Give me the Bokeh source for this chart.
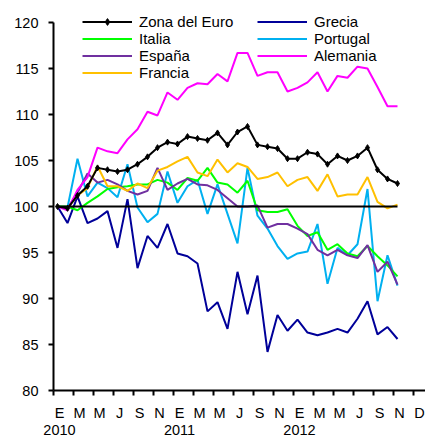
from bokeh.plotting import figure
from bokeh.models import Range1d, FixedTicker, LinearAxis, Legend, LegendItem
from bokeh.embed import file_html
from bokeh.resources import INLINE

# ---- data (monthly index, Jan 2010 = 100) ----
months = list(range(35))  # Jan 2010 .. Nov 2012
zona = [100.0, 99.8, 101.2, 102.2, 104.2, 104.0, 103.8, 104.0, 104.6, 105.4, 106.4, 107.0,
        106.8, 107.6, 107.4, 107.2, 108.0, 106.7, 108.1, 108.7, 106.7, 106.5, 106.3, 105.2,
        105.2, 105.9, 105.7, 104.6, 105.5, 105.0, 105.5, 106.4, 104.0, 103.0, 102.5]
grecia = [100.0, 98.2, 101.1, 98.2, 98.7, 99.5, 95.5, 100.8, 93.3, 96.8, 95.5, 98.1,
          94.9, 94.6, 93.8, 88.6, 89.6, 86.7, 92.9, 88.3, 92.5, 84.2, 88.2, 86.5,
          87.7, 86.3, 86.0, 86.3, 86.7, 86.3, 87.8, 89.7, 86.1, 86.9, 85.6]
italia = [100.0, 100.0, 99.6, 100.4, 101.1, 101.9, 102.1, 102.2, 102.4, 102.4, 102.9, 102.6,
          101.8, 103.1, 102.8, 104.2, 102.6, 102.4, 101.5, 102.8, 99.6, 99.4, 99.4, 99.7,
          97.9, 96.8, 97.2, 95.3, 95.9, 94.9, 94.6, 95.7, 94.6, 93.6, 92.4]
portugal = [100.0, 99.9, 105.2, 101.1, 102.6, 102.0, 101.0, 104.6, 99.9, 98.3, 99.2, 103.8,
            100.4, 102.2, 102.9, 99.2, 102.4, 99.2, 96.0, 104.2, 99.0, 97.6, 95.7, 94.3,
            94.9, 95.1, 98.1, 91.6, 95.5, 94.7, 95.9, 101.9, 89.7, 94.7, 91.4]
espana = [100.0, 99.8, 101.5, 103.6, 102.6, 102.9, 102.4, 101.7, 101.3, 101.7, 104.2, 101.8,
          102.5, 103.0, 102.4, 102.3, 101.8, 100.9, 100.0, 100.0, 100.1, 97.7, 98.1, 98.1,
          97.6, 97.0, 95.3, 94.7, 95.3, 94.7, 94.4, 95.8, 92.9, 94.0, 91.5]
alemania = [100.0, 99.6, 101.8, 103.2, 106.4, 106.0, 105.8, 107.3, 108.4, 110.3, 109.9, 112.4,
            111.6, 112.9, 113.4, 113.3, 114.4, 113.6, 116.7, 116.7, 114.2, 114.6, 114.6, 112.5,
            112.9, 113.5, 114.6, 112.5, 114.2, 114.0, 115.2, 115.0, 113.0, 110.9, 110.9]
francia = [100.0, 99.8, 101.2, 102.0, 104.4, 102.2, 102.2, 101.7, 102.5, 102.0, 103.9, 104.3,
           104.9, 105.4, 103.7, 103.3, 105.1, 103.7, 104.7, 104.3, 103.0, 103.2, 103.7, 102.2,
           102.9, 103.2, 101.7, 103.5, 101.1, 101.3, 101.3, 103.2, 100.5, 99.8, 100.2]
base = [100.0] * len(months)

month_labels = ["E", "M", "M", "J", "S", "N", "E", "M", "M", "J", "S", "N",
                "E", "M", "M", "J", "S", "N", "D"]
year_labels = ["2010", "2011", "2012"]
y_ticks = [80, 85, 90, 95, 100, 105, 110, 115, 120]

FONT = "Liberation Sans"
X0, X1 = -0.4, 36.8
Y0, Y1 = 80, 121.2   # a little headroom above 120 so the legend is not clipped

p = figure(width=425, height=437, output_backend="svg", toolbar_location=None,
           x_range=Range1d(X0, X1), y_range=Range1d(Y0, Y1),
           x_axis_type=None,
           min_border_left=53, min_border_right=0, min_border_top=11, min_border_bottom=40)
p.outline_line_color = None
p.grid.grid_line_color = None
p.background_fill_color = "white"
p.border_fill_color = "white"

# y axis (line limited to 80..120)
ya = p.yaxis[0]
ya.bounds = (80, 120)
ya.ticker = FixedTicker(ticks=y_ticks)
ya.axis_line_width = 2
ya.major_tick_line_width = 2
ya.major_tick_out = 5
ya.major_tick_in = 0
ya.minor_tick_line_color = None
ya.major_label_standoff = 10
ya.major_label_text_font = FONT
ya.major_label_text_font_size = "14.5px"
ya.major_label_text_color = "black"

# label range: month labels sit slightly right of the data points
p.extra_x_ranges = {"lab": Range1d(X0 - 0.2, X1 - 0.2)}
mpos = list(range(0, 2 * len(month_labels), 2))
tick_marks = [m - 0.6 for m in mpos]
ax_months = LinearAxis(x_range_name="lab",
                       ticker=FixedTicker(ticks=mpos, minor_ticks=tick_marks),
                       major_label_overrides={m: l for m, l in zip(mpos, month_labels)},
                       axis_line_width=2, axis_line_color="black",
                       major_tick_line_color=None, major_tick_out=0, major_tick_in=0,
                       minor_tick_line_color="black", minor_tick_line_width=2,
                       minor_tick_out=5, minor_tick_in=0,
                       major_label_standoff=9, major_label_text_font=FONT,
                       major_label_text_font_size="14.5px", major_label_text_color="black")
p.add_layout(ax_months, "below")

ypos = [0, 12, 24]
ax_years = LinearAxis(x_range_name="lab", ticker=FixedTicker(ticks=ypos),
                      major_label_overrides={m: l for m, l in zip(ypos, year_labels)},
                      axis_line_color=None, major_tick_line_color=None,
                      minor_tick_line_color=None, major_tick_out=0, major_tick_in=0,
                      major_label_standoff=1, major_label_text_font=FONT,
                      major_label_text_font_size="14.5px", major_label_text_color="black")
p.add_layout(ax_years, "below")

LW = 2
r_gre = p.line(months, grecia, line_color="#000099", line_width=LW)
r_por = p.line(months, portugal, line_color="#00B0F0", line_width=LW)
r_ita = p.line(months, italia, line_color="#00FF00", line_width=LW)
r_esp = p.line(months, espana, line_color="#7030A0", line_width=LW)
r_fra = p.line(months, francia, line_color="#FFC000", line_width=LW)
r_ale = p.line(months, alemania, line_color="#FF00FF", line_width=LW)
p.line(months, base, line_color="black", line_width=LW)
r_zon = p.line(months, zona, line_color="black", line_width=LW)
r_zon_m = p.scatter(months, zona, marker="diamond", size=6, fill_color="black", line_color="black")


def mk_legend(items, x, y):
    return Legend(items=items, location=(x, y), orientation="vertical",
                  background_fill_alpha=0, border_line_alpha=0, padding=0, margin=0,
                  spacing=0, glyph_width=50, glyph_height=17, label_height=17,
                  label_standoff=7, label_text_font=FONT, label_text_font_size="15px",
                  label_text_color="black")


fh = 380
leg1 = mk_legend([LegendItem(label="Zona del Euro", renderers=[r_zon, r_zon_m]),
                  LegendItem(label="Italia", renderers=[r_ita]),
                  LegendItem(label="España", renderers=[r_esp]),
                  LegendItem(label="Francia", renderers=[r_fra])], 29, fh - 70.5)
leg2 = mk_legend([LegendItem(label="Grecia", renderers=[r_gre]),
                  LegendItem(label="Portugal", renderers=[r_por]),
                  LegendItem(label="Alemania", renderers=[r_ale])], 204, fh - 53.5)
p.add_layout(leg1)
p.add_layout(leg2)

open("out.html", "w").write(file_html(p, INLINE))
